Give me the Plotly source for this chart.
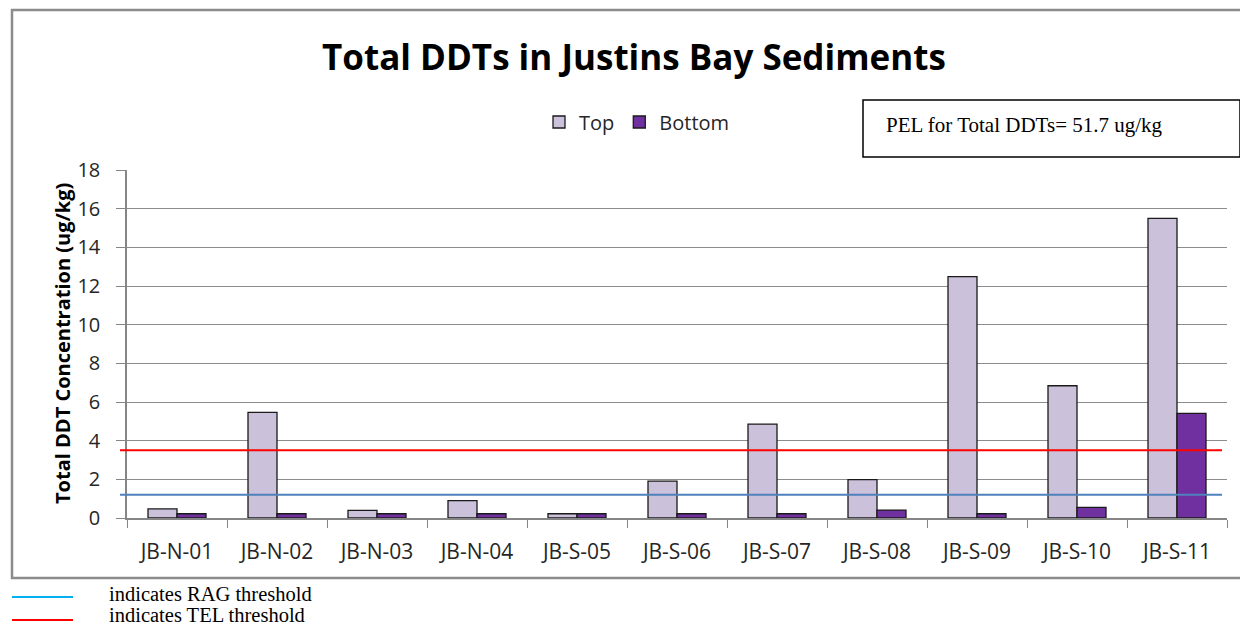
import plotly.graph_objects as go

W, H = 1248, 626
OFF = 8  # page offset of the figure inside the browser window

categories = ["JB-N-01", "JB-N-02", "JB-N-03", "JB-N-04", "JB-S-05", "JB-S-06",
              "JB-S-07", "JB-S-08", "JB-S-09", "JB-S-10", "JB-S-11"]
top_values = [0.47, 5.46, 0.39, 0.9, 0.22, 1.91, 4.86, 1.98, 12.48, 6.84, 15.5]
bottom_values = [0.22, 0.22, 0.22, 0.22, 0.22, 0.22, 0.22, 0.41, 0.22, 0.55, 5.41]
y_ticks = [0, 2, 4, 6, 8, 10, 12, 14, 16, 18]
rag_threshold = 1.2
tel_threshold = 3.5
pel_text = "PEL for Total DDTs= 51.7 ug/kg"


def px(x):
    return (x - OFF) / W


def py(y):
    return 1 - (y - OFF) / H


fig = go.Figure()
fig.add_trace(go.Bar(name="Top", x=categories, y=top_values,
                     marker=dict(color="#CCC1DA", line=dict(color="#1a1a1a", width=1.3))))
fig.add_trace(go.Bar(name="Bottom", x=categories, y=bottom_values,
                     marker=dict(color="#7030A0", line=dict(color="#1a1a1a", width=1.3))))

sans = "Open Sans"
serif = "Liberation Serif"

shapes = [
    dict(type="line", xref="paper", yref="y", x0=px(120), x1=px(1222),
         y0=tel_threshold, y1=tel_threshold, line=dict(color="#FF0000", width=2)),
    dict(type="line", xref="paper", yref="y", x0=px(120), x1=px(1222),
         y0=rag_threshold, y1=rag_threshold, line=dict(color="#4F81BD", width=2)),
    dict(type="rect", xref="paper", yref="paper", x0=px(12), x1=1.0,
         y0=py(578), y1=py(10), line=dict(color="#8C8C8C", width=2.5), layer="below"),
    dict(type="rect", xref="paper", yref="paper", x0=px(863), x1=px(1240),
         y0=py(157), y1=py(100), line=dict(color="#000000", width=1.5)),
    dict(type="line", xref="paper", yref="paper", x0=px(12), x1=px(73),
         y0=py(597), y1=py(597), line=dict(color="#00B0F0", width=2)),
    dict(type="line", xref="paper", yref="paper", x0=px(12), x1=px(73),
         y0=py(620), y1=py(620), line=dict(color="#FF0000", width=2)),
]

annotations = [
    dict(text="<b>Total DDTs in Justins Bay Sediments</b>", xref="paper", yref="paper",
         x=px(634), y=py(57), showarrow=False, xanchor="center", yanchor="middle",
         font=dict(family=sans, size=35, color="#000000")),
    dict(text="<b>Total DDT Concentration (ug/kg)</b>", xref="paper", yref="paper",
         x=px(62), y=py(344), showarrow=False, xanchor="center", yanchor="middle",
         textangle=-90, font=dict(family=sans, size=20, color="#000000")),
    dict(text=pel_text, xref="paper", yref="paper", x=px(884), y=py(125),
         showarrow=False, xanchor="left", yanchor="middle",
         font=dict(family=serif, size=21, color="#000000")),
    dict(text="indicates RAG threshold", xref="paper", yref="paper", x=px(107), y=py(594),
         showarrow=False, xanchor="left", yanchor="middle",
         font=dict(family=serif, size=20.5, color="#000000")),
    dict(text="indicates TEL threshold", xref="paper", yref="paper", x=px(107), y=py(615),
         showarrow=False, xanchor="left", yanchor="middle",
         font=dict(family=serif, size=20.5, color="#000000")),
]

fig.update_layout(
    width=W, height=H,
    margin=dict(l=0, r=0, t=0, b=0, autoexpand=False),
    paper_bgcolor="white", plot_bgcolor="white",
    barmode="group", bargap=0.42, bargroupgap=0,
    showlegend=True,
    legend=dict(orientation="h", x=px(637), y=py(122), xanchor="center", yanchor="middle",
                font=dict(family=sans, size=20, color="#262626"), bgcolor="rgba(0,0,0,0)",
                traceorder="normal", itemwidth=30),
    xaxis=dict(domain=[px(127), px(1227)], automargin=False, showline=True,
               linecolor="#868686", linewidth=1.5,
               ticks="outside", tickson="boundaries", ticklen=8, tickcolor="#868686",
               ticklabelstandoff=14,
               tickfont=dict(family=sans, size=21, color="#262626"), showgrid=False),
    yaxis=dict(domain=[py(518), py(170)], automargin=False, range=[0, 18], tickvals=y_ticks,
               showline=True, linecolor="#868686", linewidth=1.5,
               ticks="outside", ticklen=9, tickcolor="#868686", ticklabelstandoff=12,
               gridcolor="#8C8C8C", gridwidth=1, zeroline=False,
               tickfont=dict(family=sans, size=20, color="#262626")),
    shapes=shapes,
    annotations=annotations,
)

fig.write_html("out.html")
